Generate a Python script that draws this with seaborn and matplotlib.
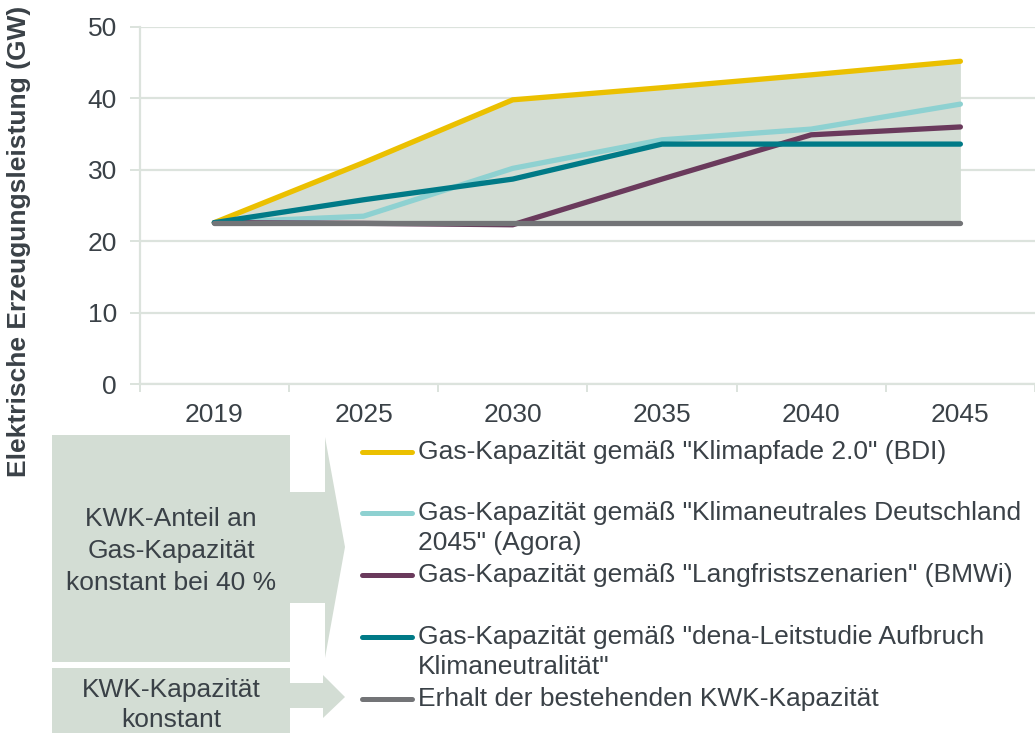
import numpy as np
import pandas as pd
import matplotlib
matplotlib.use("Agg")
import matplotlib.pyplot as plt
from matplotlib.patches import Polygon
from matplotlib.lines import Line2D
import seaborn as sns

# --- data -------------------------------------------------------------
years = ["2019", "2025", "2030", "2035", "2040", "2045"]
klimapfade_bdi = [22.6, 31.0, 39.8, 41.5, 43.3, 45.2]
agora = [22.6, 23.5, 30.2, 34.2, 35.7, 39.2]
bmwi = [22.6, 22.5, 22.3, 28.7, 34.9, 36.0]
dena = [22.6, 25.8, 28.7, 33.6, 33.6, 33.6]
kwk_bestand = [22.6, 22.6, 22.6, 22.6, 22.6, 22.6]

series_names = [
    "Gas-Kapazität gemäß \"Klimapfade 2.0\" (BDI)",
    "Gas-Kapazität gemäß \"Klimaneutrales Deutschland\n2045\" (Agora)",
    "Gas-Kapazität gemäß \"Langfristszenarien\" (BMWi)",
    "Gas-Kapazität gemäß \"dena-Leitstudie Aufbruch\nKlimaneutralität\"",
    "Erhalt der bestehenden KWK-Kapazität",
]
series_values = [klimapfade_bdi, agora, bmwi, dena, kwk_bestand]
series_colors = ["#EBC000", "#8ED1D1", "#6A3A5C", "#007A87", "#737477"]

box_big_lines = ["KWK-Anteil an", "Gas-Kapazität", "konstant bei 40 %"]
box_small_lines = ["KWK-Kapazität", "konstant"]

y_label = "Elektrische Erzeugungsleistung (GW)"

# --- style ------------------------------------------------------------
sns.set_theme(style="white")
plt.rcParams["font.family"] = ["Liberation Sans", "DejaVu Sans"]
TEXT = "#3A4147"
GRID = "#DCE3DD"
FILL = "#D3DDD4"
FS = 19

W, H = 1035, 733
fig = plt.figure(figsize=(W / 100, H / 100), dpi=100)

def fx(px):
    return px / W

def fy(py):
    return (H - py) / H

band = 150.6
ax_left, ax_top, ax_bottom = 139.7, 27, 384
ax = fig.add_axes([fx(ax_left), fy(ax_bottom), 1 - fx(ax_left), (ax_bottom - ax_top) / H])

x_idx = np.arange(len(years))
rows = []
for name, vals in zip(series_names, series_values):
    for i, v in zip(x_idx, vals):
        rows.append({"pos": i, "value": v, "series": name})
df = pd.DataFrame(rows)

# shaded corridor between the lowest and highest pathway
all_vals = np.array(series_values)
ax.fill_between(x_idx, np.array(kwk_bestand), all_vals.max(axis=0),
                color=FILL, lw=0, zorder=1)

sns.lineplot(data=df, x="pos", y="value", hue="series",
             hue_order=series_names, palette=series_colors,
             linewidth=3.8, legend=False, ax=ax, zorder=3,
             solid_capstyle="round", solid_joinstyle="round")

ax.set_xlim(-0.5, -0.5 + (W - ax_left) / band)
ax.set_ylim(0, 50)
ax.set_yticks(range(0, 51, 10))
ax.set_xticks(x_idx)
ax.set_xticklabels(years)
ax.set_xticks(np.arange(-0.5, len(years), 1.0), minor=True)
ax.grid(axis="y", color=GRID, lw=1.6, zorder=0)
ax.set_axisbelow(True)

for side in ["top", "right"]:
    ax.spines[side].set_visible(False)
for side in ["left", "bottom"]:
    ax.spines[side].set_color(GRID)
    ax.spines[side].set_linewidth(1.6)

ax.tick_params(axis="y", length=7, width=1.4, color=GRID, pad=9.5,
               labelsize=FS, labelcolor=TEXT, left=True)
ax.tick_params(axis="x", which="major", length=0, pad=13.5,
               labelsize=FS, labelcolor=TEXT)
ax.tick_params(axis="x", which="minor", length=6, width=1.4, color=GRID,
               bottom=True)

ax.set_xlabel("")
ax.set_ylabel("")
fig.text(fx(19), fy(241), y_label, rotation=90, fontsize=FS,
         fontweight="bold", color=TEXT, ha="center", va="center")

# --- legend -----------------------------------------------------------
legend_rows = [452, 513, 575, 637, 699]
line_gap = 30
for name, color, ry in zip(series_names, series_colors, legend_rows):
    fig.add_artist(Line2D([fx(362), fx(412)], [fy(ry), fy(ry)], color=color,
                          lw=3.6, solid_capstyle="round",
                          transform=fig.transFigure))
    for k, line in enumerate(name.split("\n")):
        fig.text(fx(418), fy(ry + k * line_gap), line, fontsize=FS,
                 color=TEXT, ha="left", va="center")

# --- annotation arrows ------------------------------------------------
big_shape = [(52, 435), (290, 435), (290, 492), (325, 492), (325, 437),
             (345, 547), (325, 658), (325, 603), (290, 603), (290, 662),
             (52, 662)]
small_shape = [(52, 668), (290, 668), (290, 683), (323, 683), (323, 675),
               (345, 697), (323, 718), (323, 708), (290, 708), (290, 740),
               (52, 740)]
for shape in (big_shape, small_shape):
    fig.add_artist(Polygon([(fx(px), fy(py)) for px, py in shape],
                           closed=True, facecolor=FILL, edgecolor="none",
                           transform=fig.transFigure))

for k, line in enumerate(box_big_lines):
    fig.text(fx(171), fy(519 + 32 * k), line, fontsize=FS, color=TEXT,
             ha="center", va="center")
for k, line in enumerate(box_small_lines):
    fig.text(fx(171), fy(690 + 30 * k), line, fontsize=FS, color=TEXT,
             ha="center", va="center")

fig.savefig("out.png", dpi=100)
